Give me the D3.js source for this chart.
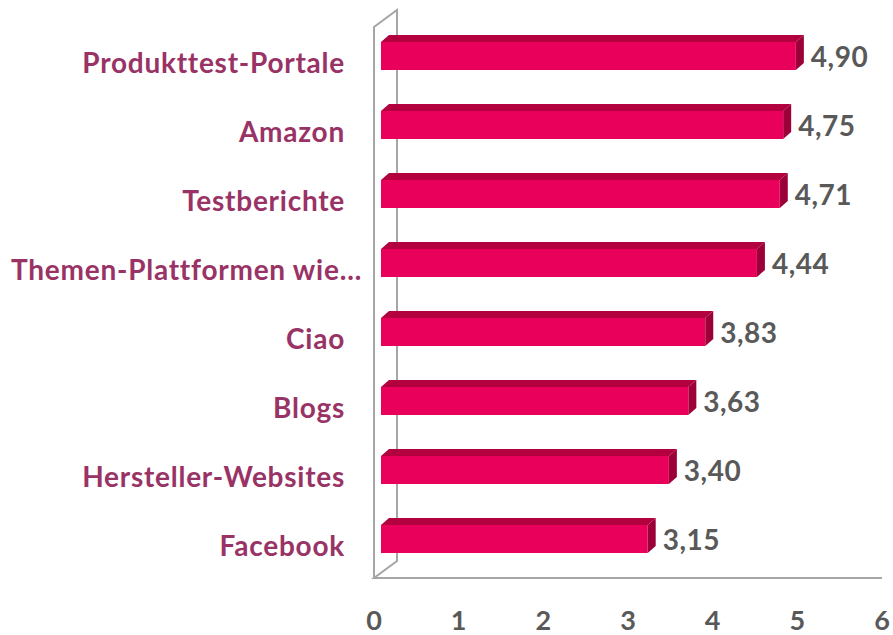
<!DOCTYPE html>
<html>
<head>
<meta charset="utf-8">
<style>
  body { margin: 0; background: #fff; }
  text { font-family: Lato, "Open Sans", sans-serif; font-weight: bold; }
</style>
</head>
<body>
<svg width="893" height="635"></svg>
<script src="https://cdn.jsdelivr.net/npm/d3@7"></script>
<script>
  var categories = ["Produkttest-Portale", "Amazon", "Testberichte", "Themen-Plattformen wie\u2026", "Ciao", "Blogs", "Hersteller-Websites", "Facebook"];
  var values = [4.90, 4.75, 4.71, 4.44, 3.83, 3.63, 3.40, 3.15];
  var ticks = [0, 1, 2, 3, 4, 5, 6];

  var svg = d3.select("svg");

  var x = d3.scaleLinear().domain([0, 6]).range([374, 882]);
  var y = d3.scalePoint().domain(categories).range([56, 539]);

  var barH = 28,      // front face height
      bx = 7,         // bars sit a little behind the front plane
      dx = 8, dy = -7,  // bar depth
      wx = 23, wy = -17; // wall depth

  var fmt = function(v) { return d3.format(".2f")(v).replace(".", ","); };

  // walls
  var wallTop = 27, floorY = 578;
  svg.append("path")
    .attr("fill", "none").attr("stroke", "#a6a6a6").attr("stroke-width", 2)
    .attr("d", "M" + x(0) + "," + floorY + "V" + wallTop + "L" + (x(0) + wx) + "," + (wallTop + wy) +
      "V" + (floorY + wy) + "L" + x(0) + "," + floorY + "H" + x(6));

  var data = categories.map(function(c, i) { return {cat: c, v: values[i]}; });

  var bars = svg.append("g").selectAll("g").data(data).enter().append("g");

  bars.each(function(d) {
    var g = d3.select(this);
    var x0 = x(0) + bx, x1 = x(d.v) + bx, y0 = y(d.cat) - barH / 2, y1 = y0 + barH;
    // top face
    g.append("path").attr("fill", "#b3003f")
      .attr("d", "M" + x0 + "," + y0 + "L" + (x0 + dx) + "," + (y0 + dy) + "H" + (x1 + dx) + "L" + x1 + "," + y0 + "Z");
    // side face
    g.append("path").attr("fill", "#9c0038")
      .attr("d", "M" + x1 + "," + y0 + "L" + (x1 + dx) + "," + (y0 + dy) + "V" + (y1 + dy) + "L" + x1 + "," + y1 + "Z");
    // front face
    g.append("rect").attr("x", x0).attr("y", y0).attr("width", x1 - x0).attr("height", barH)
      .attr("fill", "#e8005a");
    // value
    g.append("text").attr("x", x1 + dx + 7).attr("y", y0 + barH / 2 + 11)
      .attr("fill", "#595959").attr("font-size", 28).attr("letter-spacing", 0.5).text(fmt(d.v));
  });

  // category labels
  svg.append("g").selectAll("text").data(data).enter().append("text")
    .attr("x", function(d) { return d.cat.indexOf("\u2026") >= 0 ? 362 : 345; })
    .attr("y", function(d) { return y(d.cat) + 17; })
    .attr("text-anchor", "end")
    .attr("fill", "#993366")
    .attr("font-size", 28)
    .attr("letter-spacing", 0.75)
    .text(function(d) { return d.cat; });

  // x tick labels
  svg.append("g").selectAll("text").data(ticks).enter().append("text")
    .attr("x", function(d) { return x(d); })
    .attr("y", 630)
    .attr("text-anchor", "middle")
    .attr("fill", "#595959")
    .attr("font-size", 27)
    .text(function(d) { return d; });
</script>
</body>
</html>
